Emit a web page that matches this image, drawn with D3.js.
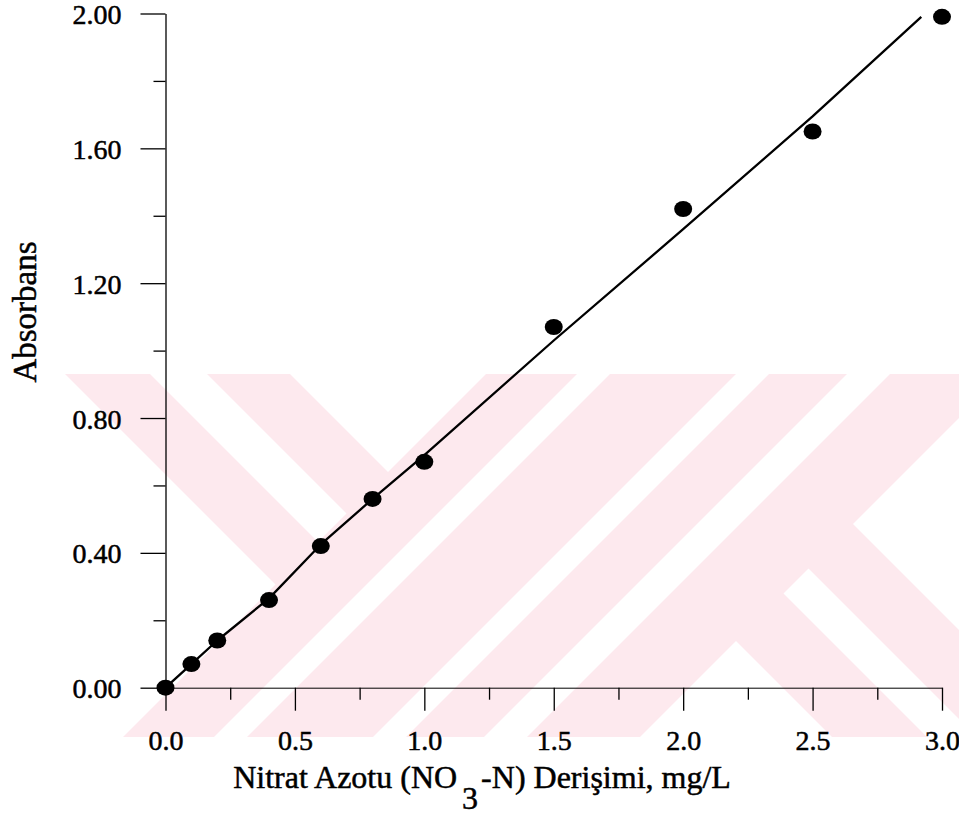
<!DOCTYPE html>
<html>
<head>
<meta charset="utf-8">
<script src="https://cdn.jsdelivr.net/npm/d3@7"></script>
<style>
  body { margin: 0; background: #fff; }
  svg { display: block; }
  text { font-family: "Liberation Serif", "Times New Roman", serif; fill: #000; stroke: #000; stroke-width: 0.5px; }
</style>
</head>
<body>
<svg id="chart" width="959" height="820"></svg>
<script>
// Calibration data: nitrate nitrogen concentration (mg/L) vs absorbance
const concentrations = [0, 0.1, 0.2, 0.4, 0.6, 0.8, 1.0, 1.5, 2.0, 2.5, 3.0];
const absorbances    = [0, 0.07, 0.14, 0.26, 0.42, 0.56, 0.67, 1.07, 1.42, 1.65, 1.99];

// Calibration curve drawn through the measurements
const curveX = [0, 0.1, 0.2, 0.4, 0.6, 0.8, 1.0, 1.5, 2.0, 2.5, 2.92];
const curveY = [0, 0.07, 0.14, 0.265, 0.425, 0.56, 0.69, 1.03, 1.36, 1.695, 1.99];

// Axis ticks
const xTicks      = [0, 0.5, 1.0, 1.5, 2.0, 2.5, 3.0];
const xMinorTicks = [0.25, 0.75, 1.25, 1.75, 2.25, 2.75];
const yTicks      = [0, 0.4, 0.8, 1.2, 1.6, 2.0];
const yMinorTicks = [0.2, 0.6, 1.0, 1.4, 1.8];

const yTitle = "Absorbans";
const xTitleParts = ["Nitrat Azotu (NO", "3", "-N) Derişimi, mg/L"];

const svg = d3.select("#chart");
svg.append("rect").attr("width", 959).attr("height", 820).attr("fill", "#fff");

// ---- background emblem (pale pink diagonal bands) ----
const mark = { x: 0, y: 374, w: 959, h: 363, fill: "#fde9ee" };
const B = 4000;
// white cut-outs given as ranges in rotated coordinates u = x + y, v = y - x
const markCuts = [
  [[-B, 860], [-B, 84]],
  [[-B, 860], [167, 224]],
  [[-B, 860], [309, B]],
  [[951, 984], [-B, B]],
  [[1110, 1143], [-B, B]],
  [[1221, 1264], [-B, B]],
  [[1377, B], [-B, -329]],
  [[1377, B], [-240, -190]],
  [[1377, B], [-95, B]]
];
const defs = svg.append("defs");
defs.append("clipPath").attr("id", "markClip")
  .append("rect").attr("x", mark.x).attr("y", mark.y).attr("width", mark.w).attr("height", mark.h);
const gMark = svg.append("g").attr("clip-path", "url(#markClip)");
gMark.append("rect").attr("x", mark.x).attr("y", mark.y).attr("width", mark.w).attr("height", mark.h)
  .attr("fill", mark.fill);
const toXY = (u, v) => [(u - v) / 2, (u + v) / 2];
gMark.selectAll("polygon").data(markCuts).join("polygon")
  .attr("fill", "#fff")
  .attr("points", ([[u0, u1], [v0, v1]]) =>
    [toXY(u0, v0), toXY(u1, v0), toXY(u1, v1), toXY(u0, v1)].map(p => p.join(",")).join(" "));

// ---- scales ----
const x = d3.scaleLinear().domain([0, 3]).range([165.5, 942]);
const y = d3.scaleLinear().domain([0, 2]).range([687.7, 13.5]);

const axisStroke = 1.3;
function styleAxis(g, fontSize) {
  g.attr("font-family", null).attr("font-size", null);
  g.selectAll("path.domain").attr("stroke", "#000").attr("stroke-width", axisStroke);
  g.selectAll(".tick line").attr("stroke", "#000").attr("stroke-width", axisStroke);
  g.selectAll(".tick text").style("font-size", fontSize + "px").attr("fill", "#000");
}

// y axis
const gy = svg.append("g").attr("transform", `translate(${x(0)},0)`)
  .call(d3.axisLeft(y).tickValues(yTicks).tickSize(25).tickSizeOuter(0).tickPadding(19)
    .tickFormat(d3.format(".2f")));
styleAxis(gy, 28);
gy.selectAll(".tick text").attr("dy", "0.36em");
const gyMinor = svg.append("g").attr("transform", `translate(${x(0)},0)`)
  .call(d3.axisLeft(y).tickValues(yMinorTicks).tickSize(12).tickFormat(""));
gyMinor.select("path.domain").remove();
styleAxis(gyMinor, 28);

// x axis
const gx = svg.append("g").attr("transform", `translate(0,${y(0)})`)
  .call(d3.axisBottom(x).tickValues(xTicks).tickSize(23).tickSizeOuter(0).tickPadding(19)
    .tickFormat(d3.format(".1f")));
styleAxis(gx, 28);
gx.select("path.domain").attr("stroke-width", 1);
const gxMinor = svg.append("g").attr("transform", `translate(0,${y(0)})`)
  .call(d3.axisBottom(x).tickValues(xMinorTicks).tickSize(12).tickFormat(""));
gxMinor.select("path.domain").remove();
styleAxis(gxMinor, 28);

// ---- calibration curve ----
const line = d3.line().x(d => x(d[0])).y(d => y(d[1]));
svg.append("path")
  .datum(curveX.map((v, i) => [v, curveY[i]]))
  .attr("d", line)
  .attr("fill", "none")
  .attr("stroke", "#000")
  .attr("stroke-width", 2.3)
  .attr("stroke-linejoin", "round");

// ---- measured points ----
svg.append("g").selectAll("ellipse")
  .data(concentrations.map((c, i) => [c, absorbances[i]]))
  .join("ellipse")
  .attr("cx", d => x(d[0]))
  .attr("cy", d => y(d[1]))
  .attr("rx", 9)
  .attr("ry", 8)
  .attr("fill", "#000");

// ---- axis titles ----
svg.append("text")
  .attr("transform", "translate(36,312) rotate(-90)")
  .attr("text-anchor", "middle")
  .style("font-size", "33px")
  .text(yTitle);

const xt = svg.append("text")
  .attr("x", 482).attr("y", 788)
  .attr("text-anchor", "middle")
  .style("font-size", "32px");
xt.append("tspan").text(xTitleParts[0]);
xt.append("tspan").attr("dx", 5).attr("dy", 21).text(xTitleParts[1]);
xt.append("tspan").attr("dx", 3).attr("dy", -21).text(xTitleParts[2]);
</script>
</body>
</html>
